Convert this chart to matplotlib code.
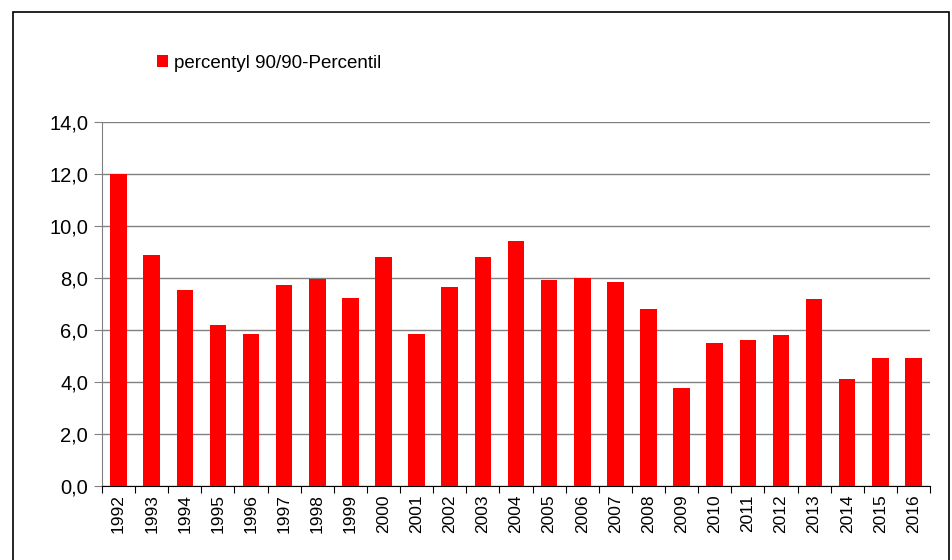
import matplotlib.pyplot as plt
import matplotlib.patches as patches
import numpy as np

plt.rcParams["font.family"] = ["Liberation Sans", "DejaVu Sans"]

## Data
years = [str(y) for y in range(1992, 2017)]
percentile_90 = [12.0, 8.88, 7.54, 6.19, 5.85, 7.73, 7.96, 7.23, 8.81, 5.85,
                 7.65, 8.81, 9.42, 7.92, 8.0, 7.85, 6.81, 3.77, 5.5, 5.62,
                 5.81, 7.19, 4.12, 4.92, 4.92]
legend_label = "percentyl 90/90-Percentil"
y_ticks = [0, 2, 4, 6, 8, 10, 12, 14]

## Figure
fig = plt.figure(figsize=(9.53, 5.6), dpi=100)
W, H = 953, 560
ax = fig.add_axes([102 / W, 1 - 486 / H, (930 - 102) / W, (486 - 122) / H])

# outer frame of the chart area
fig.patches.append(patches.Rectangle((13 / W, -0.05), (949 - 13) / W, 1.05 - 12 / H,
                                     transform=fig.transFigure, fill=False,
                                     edgecolor="black", linewidth=1.2))

x = np.arange(len(years))
bars = ax.bar(x, percentile_90, width=0.5, color="#ff0000", label=legend_label, zorder=3)

ax.set_xlim(-0.5, len(years) - 0.5)
ax.set_ylim(0, 14)
ax.set_yticks(y_ticks)
ax.set_yticklabels([f"{v:.1f}".replace(".", ",") for v in y_ticks], fontsize=14.5)
ax.yaxis.grid(True, color="#808080", linewidth=1.0, zorder=0)

# x ticks on category boundaries, labels centred on bars
ax.set_xticks(np.arange(-0.5, len(years), 1.0))
ax.set_xticklabels([])
ax.set_xticks(x, minor=True)
ax.set_xticklabels(years, minor=True, rotation=90, fontsize=12.5)
ax.tick_params(axis="x", which="major", length=5, color="black", direction="out")
ax.tick_params(axis="x", which="minor", length=0, pad=6)
ax.tick_params(axis="y", length=6, color="#808080", direction="out", pad=4)

for side in ["top", "right"]:
    ax.spines[side].set_visible(False)
ax.spines["left"].set_color("#808080")
ax.spines["bottom"].set_color("black")

fig.legend(handles=[bars], labels=[legend_label], loc="upper left",
           bbox_to_anchor=(140 / W, 1 - 38 / H), frameon=False, fontsize=13.5,
           handlelength=0.6, handleheight=0.6, handletextpad=0.3)

fig.savefig("out.png", dpi=100, facecolor="white")
